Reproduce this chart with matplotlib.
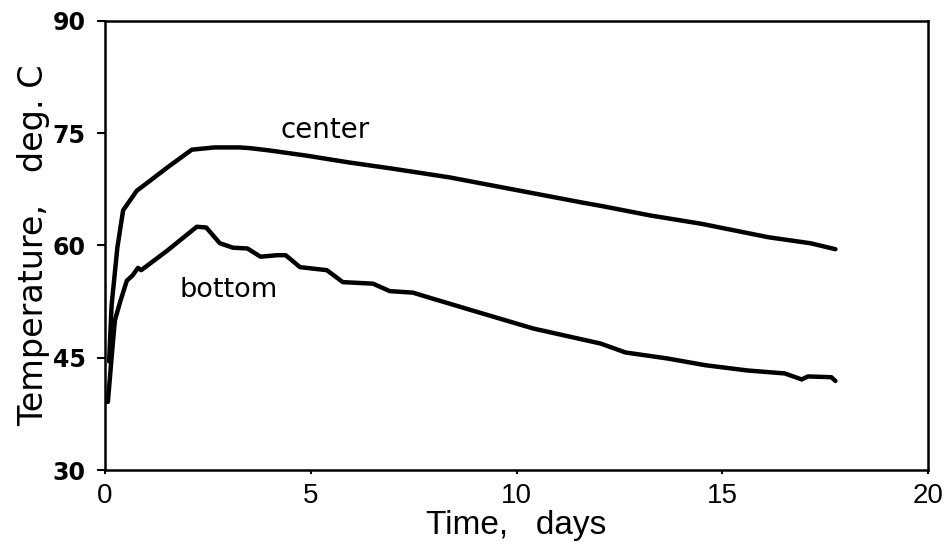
import matplotlib
matplotlib.use("Agg")
import matplotlib.pyplot as plt

# readings (days, deg C)
center_days = [0.10, 0.16, 0.30, 0.44, 0.77, 1.13, 1.51, 2.11, 2.66, 3.27, 3.53, 3.99,
               4.90, 5.92, 6.94, 8.37, 10.0, 11.63, 12.04, 13.26, 14.49, 16.12, 17.14, 17.75]
center_temp = [44.5, 52.0, 59.7, 64.7, 67.3, 68.8, 70.4, 72.8, 73.1, 73.1, 73.0, 72.7,
               72.0, 71.1, 70.3, 69.1, 67.4, 65.7, 65.3, 64.0, 62.9, 61.1, 60.3, 59.5]

bottom_days = [0.07, 0.16, 0.24, 0.37, 0.53, 0.67, 0.80, 0.88, 1.51, 2.23, 2.46,
               2.79, 3.11, 3.46, 3.78, 4.19, 4.39, 4.74, 5.39, 5.78, 6.51, 6.92, 7.48,
               7.96, 9.18, 10.41, 12.04, 12.65, 13.67, 14.59, 15.61, 16.52, 16.93, 17.08,
               17.65, 17.75]
bottom_temp = [39.1, 45.0, 50.0, 52.5, 55.3, 56.0, 57.0, 56.7, 59.3, 62.5, 62.4,
               60.3, 59.7, 59.6, 58.5, 58.7, 58.7, 57.1, 56.7, 55.1, 54.9, 53.9, 53.7,
               52.9, 50.9, 48.9, 46.9, 45.7, 44.9, 44.0, 43.3, 42.9, 42.1, 42.5,
               42.4, 41.9]

x_ticks = [0, 5, 10, 15, 20]
y_ticks = [30, 45, 60, 75, 90]

fig = plt.figure(figsize=(9.46, 5.51), dpi=100)
ax = fig.add_axes([0.111, 0.147, 0.870, 0.815])

ax.plot(center_days, center_temp, color="black", linewidth=3.2,
        solid_capstyle="round", solid_joinstyle="round")
ax.plot(bottom_days, bottom_temp, color="black", linewidth=3.2,
        solid_capstyle="round", solid_joinstyle="round")

ax.text(5.35, 75.4, "center", fontsize=20, ha="center", va="center")
ax.text(3.0, 54.0, "bottom", fontsize=19.5, ha="center", va="center")

ax.set_xlim(0, 20)
ax.set_ylim(30, 90)
ax.set_xticks(x_ticks)
ax.set_yticks(y_ticks)
ax.tick_params(axis="y", direction="out", length=6, width=1.5, pad=8, labelsize=17)
ax.tick_params(axis="x", direction="out", length=3, width=1.5, pad=6, labelsize=20)
for lab in ax.get_yticklabels():
    lab.set_fontweight("bold")
for lab in ax.get_xticklabels():
    lab.set_family("Liberation Sans")

ax.set_xlabel("Time,   days", fontsize=24, family="Liberation Sans", labelpad=1)
ax.set_ylabel("Temperature,   deg. C", fontsize=24, labelpad=2)
for sp in ax.spines.values():
    sp.set_linewidth(1.8)

fig.savefig("out.png", dpi=100)
